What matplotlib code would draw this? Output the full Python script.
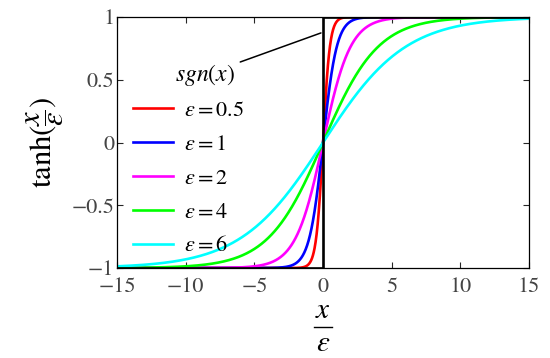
import numpy as np
import matplotlib
matplotlib.use("Agg")
import matplotlib.pyplot as plt

plt.rcParams['font.family'] = ['STIXGeneral', 'DejaVu Serif']
plt.rcParams['mathtext.fontset'] = 'stix'

# data
eps_values = [0.5, 1, 2, 4, 6]
eps_colors = ['#ff0000', '#0000ff', '#ff00ff', '#00ff00', '#00ffff']
x_range = [-15, 15]
x_ticks = [-15, -10, -5, 0, 5, 10, 15]
y_ticks = [-1, -0.5, 0, 0.5, 1]
y_tick_labels = ['\u22121', '\u22120.5', '0', '0.5', '1']
x_tick_labels = ['\u221215', '\u221210', '\u22125', '0', '5', '10', '15']

x = np.linspace(x_range[0], x_range[1], 2001)

fig = plt.figure(figsize=(5.5, 3.58), dpi=100)
ax = fig.add_axes([117 / 550, 1 - 268 / 358, (529 - 117) / 550, (268 - 17) / 358])

for eps, c in zip(eps_values, eps_colors):
    ax.plot(x, np.tanh(x / eps), color=c, lw=1.9,
            label=r'$\varepsilon = %s$' % eps)

# sgn(x)
ax.plot([x_range[0], 0, 0, x_range[1]], [-1, -1, 1, 1], color='black', lw=1.9,
        zorder=5)

ax.annotate(r'$sgn(x)$', xy=(-0.15, 0.873), xytext=(-8.6, 0.54),
            fontsize=17, ha='center', va='center',
            arrowprops=dict(arrowstyle='-', color='black', lw=1.1,
                            shrinkA=2, shrinkB=0))

ax.set_xlim(x_range)
ax.set_ylim(-1, 1)
ax.set_xticks(x_ticks)
ax.set_xticklabels(x_tick_labels)
ax.set_yticks(y_ticks)
ax.set_yticklabels(y_tick_labels)
ax.tick_params(direction='in', top=True, right=True, labelsize=16,
               length=4, width=0.8, colors='#262626', labelcolor='#444444')
ax.tick_params(axis='y', pad=2)
ax.tick_params(axis='x', pad=7)
for s in ax.spines.values():
    s.set_linewidth(0.9)

# x label as a stacked fraction x / epsilon
ax.text(0.5, -0.172, r'$x$', transform=ax.transAxes, fontsize=21,
        ha='center', va='center')
ax.plot([0.478, 0.522], [-0.235, -0.235], transform=ax.transAxes, color='black',
        lw=1.0, clip_on=False)
ax.text(0.5, -0.305, r'$\varepsilon$', transform=ax.transAxes, fontsize=21,
        ha='center', va='center')

ax.set_ylabel(r'$\mathrm{tanh}(\dfrac{x}{\varepsilon})$', fontsize=22, labelpad=4)

ax.legend(loc='upper left', bbox_to_anchor=(0.0, 0.73), frameon=False,
          fontsize=16, handlelength=1.8, handletextpad=0.5, labelspacing=0.6,
          borderaxespad=0.3)

fig.savefig('out.png', dpi=100)
